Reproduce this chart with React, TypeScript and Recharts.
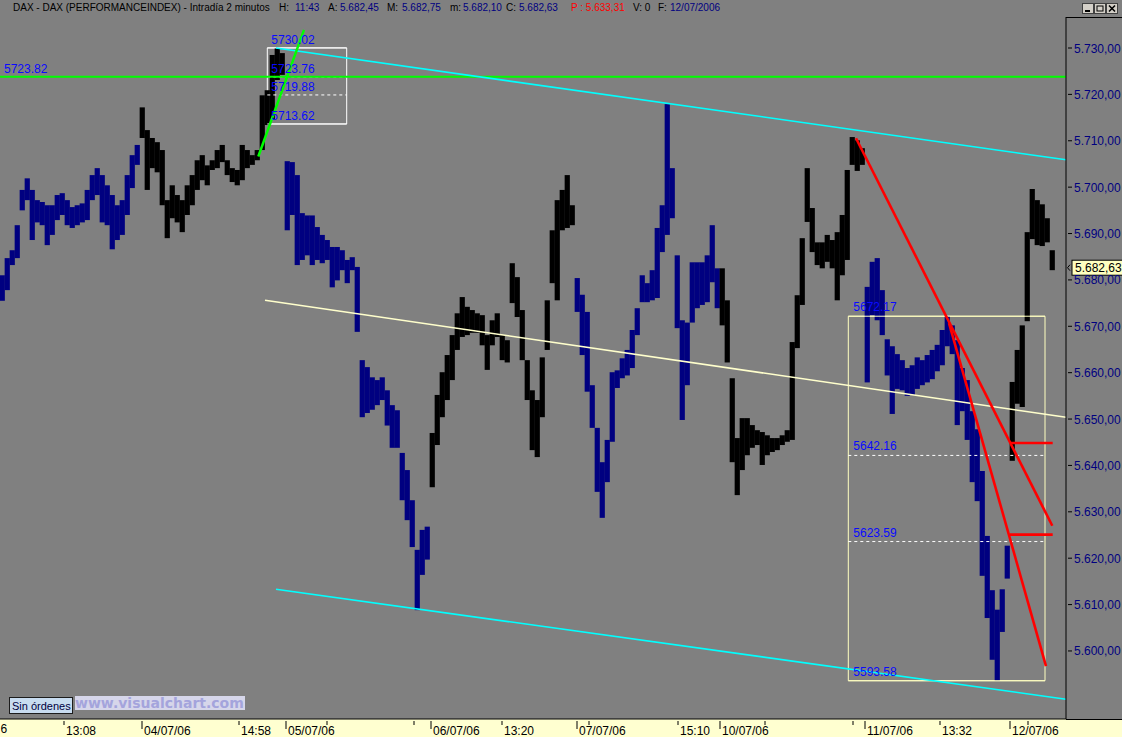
import { ComposedChart, Bar, XAxis, YAxis, ReferenceLine, ReferenceArea } from 'recharts';

// DAX 2-minute bars, sampled per column: session highs and lows
const jul03Hi = [5681.0, 5684.7, 5686.4, 5691.8, 5699.4, 5701.9, 5699.4, 5697.2, 5696.8, 5696.1, 5696.1, 5698.3, 5698.7, 5697.2, 5695.7, 5696.1, 5696.5, 5699.4, 5702.6, 5704.1, 5702.6, 5700.4, 5698.3, 5696.1, 5697.2, 5702.6, 5706.9, 5709.1];
const jul03Lo = [5675.5, 5677.8, 5683.2, 5684.7, 5695.0, 5697.2, 5688.6, 5692.4, 5691.8, 5687.5, 5689.7, 5692.9, 5694.0, 5691.8, 5691.2, 5691.8, 5692.4, 5692.9, 5697.2, 5698.3, 5692.4, 5691.8, 5686.6, 5688.6, 5689.7, 5694.0, 5699.8, 5704.8];
const jul04Hi = [5717.2, 5712.3, 5710.6, 5709.7, 5708.0, 5697.2, 5700.4, 5698.3, 5697.2, 5700.4, 5702.6, 5705.8, 5706.9, 5704.7, 5705.8, 5708.0, 5709.1, 5705.8, 5704.1, 5703.7, 5709.1, 5708.0, 5706.9, 5708.0, 5719.8, 5720.9, 5728.5, 5730.0, 5728.9];
const jul04Lo = [5710.6, 5699.4, 5704.1, 5703.2, 5696.1, 5689.0, 5693.3, 5692.4, 5690.3, 5694.0, 5696.1, 5699.4, 5701.5, 5700.4, 5703.7, 5704.1, 5705.4, 5702.6, 5701.1, 5700.4, 5701.5, 5704.1, 5704.8, 5705.8, 5708.0, 5713.4, 5714.5, 5723.1, 5724.2];
const jul05Hi = [5705.6, 5705.4, 5702.6, 5694.4, 5693.9, 5693.9, 5691.4, 5689.7, 5688.6, 5687.1, 5687.1, 5686.4, 5684.3, 5684.9, 5682.8, 5662.7, 5661.2, 5659.0, 5658.4, 5659.0, 5656.2, 5653.0, 5651.9, 5642.7, 5639.0, 5632.5, 5621.8, 5626.1, 5626.8];
const jul05Lo = [5690.7, 5694.0, 5683.2, 5684.3, 5685.3, 5683.2, 5684.3, 5683.6, 5684.3, 5678.4, 5679.9, 5682.1, 5679.3, 5682.1, 5668.8, 5650.4, 5651.3, 5652.0, 5653.0, 5654.1, 5648.6, 5643.8, 5643.8, 5632.5, 5628.2, 5622.4, 5608.8, 5616.4, 5619.7];
const jul06Hi = [5647.0, 5655.2, 5660.1, 5663.8, 5668.1, 5672.8, 5676.3, 5674.2, 5673.5, 5672.8, 5672.4, 5668.1, 5671.3, 5672.8, 5668.1, 5667.0, 5683.6, 5680.6, 5673.5, 5662.7, 5656.2, 5654.1, 5663.3, 5675.6, 5690.7, 5697.2, 5699.4, 5702.6, 5696.1];
const jul06Lo = [5635.3, 5644.4, 5650.4, 5654.1, 5658.4, 5664.9, 5667.7, 5668.1, 5668.6, 5668.6, 5665.9, 5660.6, 5665.9, 5667.7, 5662.7, 5662.2, 5675.0, 5672.0, 5662.7, 5654.1, 5643.3, 5641.8, 5650.4, 5664.9, 5679.3, 5675.6, 5690.7, 5691.2, 5691.8];
const jul07Hi = [5680.4, 5676.8, 5673.1, 5657.3, 5648.1, 5640.7, 5645.5, 5660.1, 5660.5, 5663.1, 5664.9, 5669.2, 5673.9, 5681.0, 5679.3, 5682.1, 5691.2, 5696.1, 5717.9, 5704.1, 5685.3, 5671.3, 5670.8, 5683.8, 5683.8, 5683.8, 5685.3, 5691.8, 5682.5];
const jul07Lo = [5673.1, 5663.8, 5655.9, 5648.1, 5634.3, 5628.7, 5636.4, 5645.1, 5656.7, 5658.8, 5659.4, 5661.0, 5668.1, 5675.2, 5675.2, 5675.6, 5676.1, 5686.0, 5689.7, 5693.3, 5669.6, 5649.8, 5657.3, 5670.8, 5673.9, 5674.6, 5675.2, 5679.5, 5673.9];
const jul10Hi = [5682.5, 5675.6, 5658.8, 5645.9, 5650.2, 5650.2, 5648.7, 5647.6, 5647.2, 5646.5, 5645.9, 5645.9, 5646.5, 5647.6, 5666.6, 5676.7, 5689.0, 5704.1, 5695.5, 5688.1, 5688.1, 5689.7, 5688.6, 5690.3, 5694.0, 5703.7, 5710.8, 5710.1, 5708.4];
const jul10Lo = [5670.2, 5662.2, 5640.7, 5633.6, 5639.0, 5642.2, 5643.8, 5644.4, 5640.1, 5642.2, 5642.9, 5643.3, 5644.4, 5645.1, 5645.5, 5665.3, 5674.6, 5692.5, 5686.0, 5683.2, 5682.5, 5683.9, 5682.5, 5675.6, 5681.0, 5684.3, 5704.8, 5703.5, 5704.8];
const jul11Hi = [5678.5, 5683.9, 5684.7, 5677.8, 5667.2, 5665.7, 5664.0, 5662.7, 5661.0, 5661.6, 5663.3, 5662.7, 5663.8, 5664.9, 5666.0, 5669.2, 5672.2, 5670.2, 5667.0, 5661.0, 5658.4, 5651.7, 5647.8, 5638.8, 5624.8, 5613.1, 5608.9, 5613.3, 5622.7];
const jul11Lo = [5657.9, 5672.4, 5671.3, 5668.1, 5659.4, 5651.1, 5656.5, 5656.2, 5655.0, 5655.2, 5656.5, 5657.3, 5657.9, 5658.6, 5660.3, 5661.6, 5665.7, 5664.0, 5648.7, 5651.7, 5645.5, 5636.4, 5632.3, 5616.2, 5607.1, 5598.1, 5593.6, 5604.1, 5615.6];
const jul12Hi = [5658.0, 5664.9, 5670.2, 5690.3, 5699.6, 5697.2, 5696.3, 5693.3, 5686.4];
const jul12Lo = [5641.0, 5653.3, 5652.6, 5671.1, 5688.8, 5687.5, 5687.3, 5688.1, 5682.1];

const sessionColors = ['#000080', '#000000'];

const priceTicks = [5600, 5610, 5620, 5630, 5640, 5650, 5660, 5670, 5680, 5690, 5700, 5710, 5720, 5730];
const timeTicks = [12.8, 28.4, 47.8, 57.2, 65.4, 82.8, 86.2, 100.4, 115.4, 117.8, 135.6, 144, 153, 170.6, 173, 188, 202, 205.6];
const timeLabels = ['13:08', '04/07/06', '14:58', '05/07/06', '', '', '06/07/06', '13:20', '07/07/06', '', '15:10', '10/07/06', '', '', '11/07/06', '13:32', '12/07/06', ''];

// drawing tools
const greenLevel = 5723.82;
const lastPrice = 5682.63;
const topFib = [5730.02, 5723.76, 5719.88, 5713.62];
const topFibX = [53.46, 69.34];
const lowFib = [5672.17, 5642.16, 5623.59, 5593.58];
const lowFibX = [169.66, 209];
const channelTop = [{ x: 55.2, y: 5730.0 }, { x: 213.2, y: 5705.9 }];
const channelBottom = [{ x: 55.2, y: 5613.3 }, { x: 213.2, y: 5589.6 }];
const channelMid = [{ x: 53, y: 5675.6 }, { x: 213.2, y: 5650.4 }];
const greenFan = [{ x: 51.66, y: 5706.6 }, { x: 60.8, y: 5733.9 }];
const redFan1 = [{ x: 171.2, y: 5710.55 }, { x: 210.46, y: 5627.0 }];
const redFan2 = [{ x: 189.8, y: 5670.7 }, { x: 209.2, y: 5596.75 }];
const redStop1 = [{ x: 202, y: 5644.85 }, { x: 210.54, y: 5644.85 }];
const redStop2 = [{ x: 202, y: 5625.08 }, { x: 210.54, y: 5625.08 }];

const sessions = [
  [jul03Hi, jul03Lo], [jul04Hi, jul04Lo], [jul05Hi, jul05Lo], [jul06Hi, jul06Lo],
  [jul07Hi, jul07Lo], [jul10Hi, jul10Lo], [jul11Hi, jul11Lo], [jul12Hi, jul12Lo],
];

const bars = sessions
  .flatMap(([hi, lo], d) => hi.map((h, k) => ({ range: [lo[k], h], color: sessionColors[d % 2] })))
  .map((b, i) => ({ ...b, x: i + 0.5 }));

const FONT = "'Liberation Sans', Arial, sans-serif";
const fmtPrice = (v: number) => `${Math.floor(v / 1000)}.${String(Math.floor(v % 1000)).padStart(3, '0')},${(v % 1).toFixed(2).slice(2)}`;

// one column of the price band, full step width so the columns touch
function RangeBar(props: any) {
  const { x, y, width, height, payload } = props;
  if (x == null || y == null) return null;
  const cx = x + width / 2;
  const top = Math.min(y, y + height);
  const h = Math.max(Math.abs(height), 1);
  return <rect x={cx - 2.6} y={top} width={5.2} height={h} fill={payload.color} />;
}

function PriceTick(props: any) {
  const { x, y, payload } = props;
  return (
    <g>
      <line x1={x} x2={x + 4} y1={y} y2={y} stroke="#000" />
      <text x={x + 6} y={y + 4.5} fontSize={12} fill="#000080" fontFamily={FONT}>{fmtPrice(payload.value)}</text>
    </g>
  );
}

function TimeTick(props: any) {
  const { x, y, payload } = props;
  const label = timeLabels[timeTicks.indexOf(payload.value)] ?? '';
  const long = label.includes('/');
  return (
    <g>
      <line x1={x} x2={x} y1={y} y2={y + (long ? 8 : 4)} stroke="#000" />
      {label && <text x={x + 2} y={y + 14} fontSize={12} fill="#000" fontFamily={FONT}>{label}</text>}
    </g>
  );
}

function PriceTag(props: any) {
  const vb = props.viewBox ?? props;
  const x = vb.x + vb.width;
  const y = vb.y;
  return (
    <g>
      <polyline points={`${x + 4},${y - 3} ${x + 1.5},${y} ${x + 4},${y + 3}`} fill="none" stroke="#000" />
      <rect x={x + 6} y={y - 7.5} width={52} height={15} fill="#ffffc0" stroke="#000" />
      <text x={x + 9} y={y + 4.5} fontSize={12} fill="#000" fontFamily={FONT}>{fmtPrice(lastPrice)}</text>
    </g>
  );
}

const fibLabel = (v: number, offset = 4) => ({ value: v.toFixed(2), position: 'insideBottomLeft' as const, offset, fill: '#0a0aff', fontSize: 12, fontFamily: FONT });

export default function App() {
  const titleParts = [
    { x: 13, t: 'DAX - DAX (PERFORMANCEINDEX) - Intradía 2 minutos', c: '#000' },
    { x: 279, t: 'H:', c: '#000' }, { x: 295, t: '11:43', c: '#000080' },
    { x: 328, t: 'A:', c: '#000' }, { x: 340, t: '5.682,45', c: '#000080' },
    { x: 387, t: 'M:', c: '#000' }, { x: 402, t: '5.682,75', c: '#000080' },
    { x: 450, t: 'm:', c: '#000' }, { x: 463, t: '5.682,10', c: '#000080' },
    { x: 506, t: 'C:', c: '#000' }, { x: 519, t: '5.682,63', c: '#000080' },
    { x: 571, t: 'P : 5.633,31', c: '#ff0000' },
    { x: 633, t: 'V: 0', c: '#000' },
    { x: 658, t: 'F:', c: '#000' }, { x: 670, t: '12/07/2006', c: '#000080' },
  ];

  return (
    <div style={{ position: 'relative', width: 1122, height: 737, background: '#808080', overflow: 'hidden', fontFamily: FONT }}>
      <style>{'body{margin:0}'}</style>
      <div style={{ position: 'absolute', left: 0, top: 719, width: 1122, height: 18, background: '#ffffd0' }} />
      <div style={{ position: 'absolute', left: 0, top: 0 }}>
        <ComposedChart width={1122} height={737} data={bars} margin={{ top: 18, right: 0, bottom: 0, left: 0 }} barGap={0}>
          <XAxis dataKey="x" type="number" domain={[0, 213.2]} allowDataOverflow ticks={timeTicks} interval={0}
            tick={<TimeTick />} tickLine={false} tickSize={0} axisLine={{ stroke: '#000' }} height={18} />
          <YAxis orientation="right" type="number" domain={[5585.33, 5736.47]} allowDataOverflow ticks={priceTicks} interval={0}
            tick={<PriceTick />} tickLine={false} tickSize={0} axisLine={{ stroke: '#000' }} width={56} />

          {/* fibonacci retracements */}
          <ReferenceArea x1={topFibX[0]} x2={topFibX[1]} y1={topFib[3]} y2={topFib[0]} fill="none" fillOpacity={0} stroke="#ffffff" ifOverflow="visible" />
          {topFib.map((v, i) => (
            <ReferenceLine key={'t' + v} segment={[{ x: topFibX[0], y: v }, { x: topFibX[1], y: v }]} stroke="#ffffff"
              strokeDasharray={i === 1 || i === 2 ? '3 3' : undefined} ifOverflow="visible" label={fibLabel(v)} />
          ))}
          <ReferenceArea x1={lowFibX[0]} x2={lowFibX[1]} y1={lowFib[3]} y2={lowFib[0]} fill="none" fillOpacity={0} stroke="#ffffc0" ifOverflow="visible" />
          {lowFib.map((v, i) => (
            <ReferenceLine key={'l' + v} segment={[{ x: lowFibX[0], y: v }, { x: lowFibX[1], y: v }]}
              stroke={i === 1 || i === 2 ? '#ffffff' : '#ffffc0'}
              strokeDasharray={i === 1 || i === 2 ? '3 3' : undefined} ifOverflow="visible" label={fibLabel(v, 5)} />
          ))}

          <Bar dataKey="range" barSize={5} isAnimationActive={false} shape={<RangeBar />} />

          <ReferenceLine y={greenLevel} stroke="#00ff00" strokeWidth={2} ifOverflow="visible"
            label={{ value: greenLevel.toFixed(2), position: 'insideBottomLeft', offset: 4, fill: '#0a0aff', fontSize: 12, fontFamily: FONT }} />
          <ReferenceLine segment={channelMid} stroke="#ffffcc" strokeWidth={1.5} ifOverflow="visible" />
          <ReferenceLine segment={channelTop} stroke="#00ffff" strokeWidth={1.6} ifOverflow="visible" />
          <ReferenceLine segment={channelBottom} stroke="#00ffff" strokeWidth={1.6} ifOverflow="visible" />
          <ReferenceLine segment={greenFan} stroke="#00ff00" strokeWidth={2.5} ifOverflow="visible" />
          <ReferenceLine segment={redFan1} stroke="#ff0000" strokeWidth={2.6} ifOverflow="visible" />
          <ReferenceLine segment={redFan2} stroke="#ff0000" strokeWidth={2.6} ifOverflow="visible" />
          <ReferenceLine segment={redStop1} stroke="#ff0000" strokeWidth={2.6} ifOverflow="visible" />
          <ReferenceLine segment={redStop2} stroke="#ff0000" strokeWidth={2.6} ifOverflow="visible" />
          <ReferenceLine y={lastPrice} stroke="none" ifOverflow="visible" label={(p: any) => <PriceTag {...p} />} />
        </ComposedChart>
      </div>

      <svg width={1122} height={737} style={{ position: 'absolute', left: 0, top: 0, pointerEvents: 'none' }} fontFamily={FONT}>
        {titleParts.map((p) => (
          <text key={p.x} x={p.x} y={11} fontSize={10} fill={p.c} xmlSpace="preserve">{p.t}</text>
        ))}
        {/* window buttons */}
        {[1082, 1094, 1106].map((bx) => (
          <rect key={bx} x={bx + 0.5} y={3.5} width={11} height={10} fill="#d4d0c8" stroke="#404040" />
        ))}
        <line x1={1085} x2={1090} y1={11} y2={11} stroke="#000" strokeWidth={2} />
        <rect x={1097} y={6} width={6} height={5} fill="none" stroke="#000" />
        <line x1={1109} x2={1115} y1={5.5} y2={11.5} stroke="#000" strokeWidth={1.6} />
        <line x1={1115} x2={1109} y1={5.5} y2={11.5} stroke="#000" strokeWidth={1.6} />
        {/* right scale frame */}
        <line x1={1065.5} x2={1122} y1={17.5} y2={17.5} stroke="#000" />
        <line x1={1066} x2={1122} y1={719.5} y2={719.5} stroke="#000" />
        {/* visible tail of the first, cut-off date label */}
        <text x={0.5} y={733} fontSize={12} fill="#000">6</text>
        {/* order status + watermark */}
        <rect x={9.5} y={697.5} width={63} height={16} fill="#c8dcf0" stroke="#1c1c1c" />
        <text x={12} y={710} fontSize={11} fill="#000040">Sin órdenes</text>
        <rect x={75} y={696} width={170} height={14} fill="#d6d6ea" />
        <text x={75} y={708} fontSize={14} fontWeight="bold" fontFamily="'DejaVu Sans', sans-serif" fill="#a4a4dc">www.visualchart.com</text>
      </svg>
    </div>
  );
}
